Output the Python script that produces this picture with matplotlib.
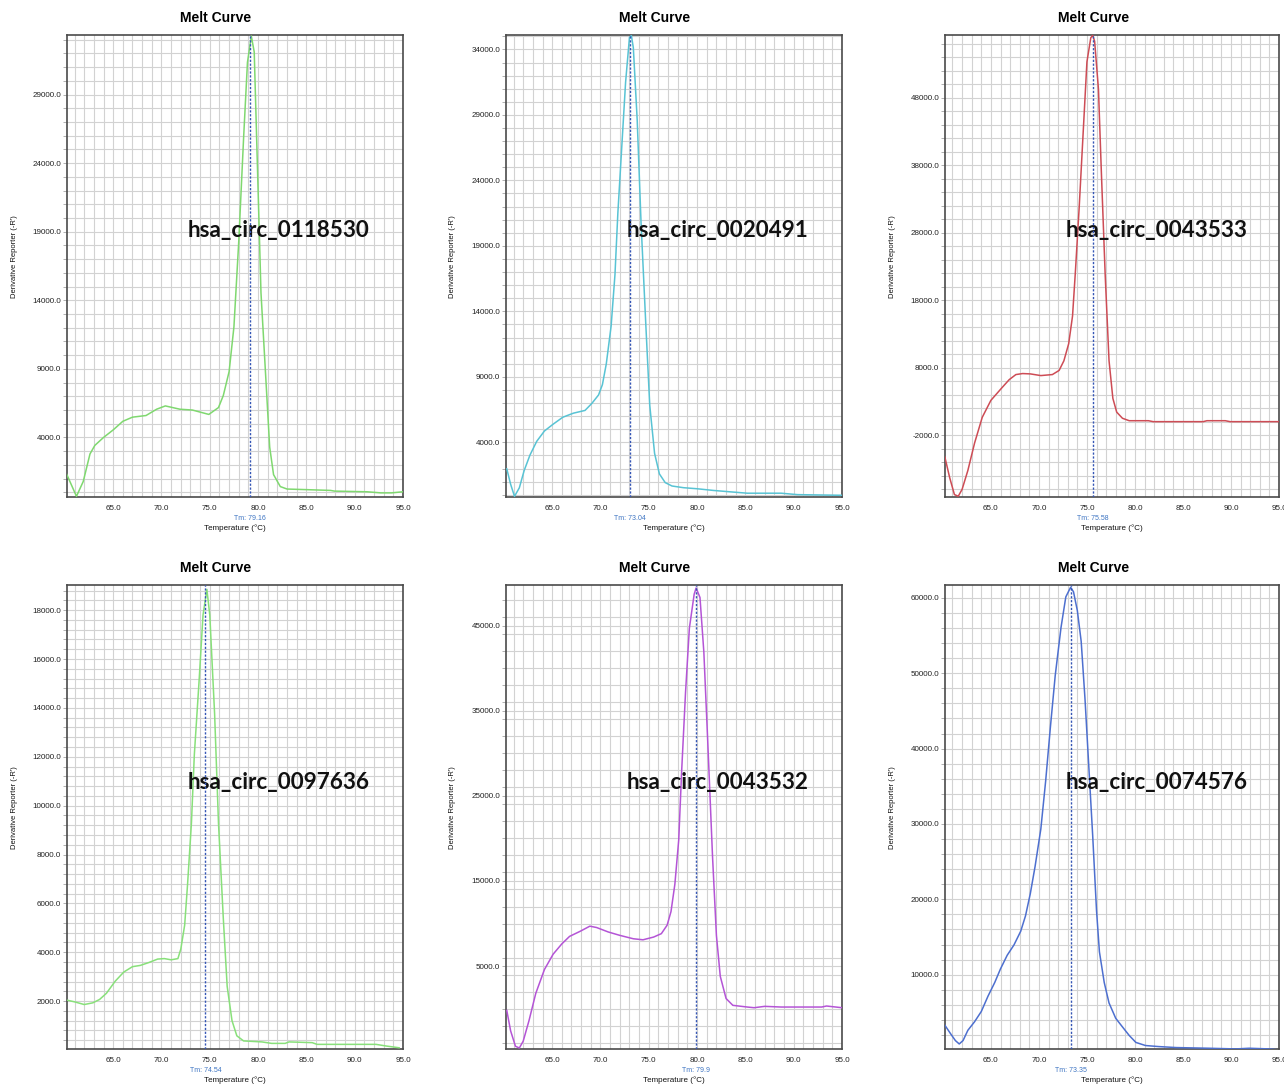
import numpy as np
import matplotlib
matplotlib.use('Agg')
import matplotlib.pyplot as plt
from matplotlib.ticker import MultipleLocator, FormatStrFormatter

plt.rcParams['font.family'] = ['Liberation Sans', 'DejaVu Sans']

# ---- data (temperature in degC, derivative reporter -R') ----
temp_0118530 = [60.2, 61.2, 61.9, 62.6, 63.1, 64.0, 65.0, 66.0, 67.0, 68.4, 69.5, 70.4, 71.9,
                73.2, 74.9, 75.9, 76.4, 77.0, 77.5, 78.0, 78.5, 78.9, 79.3, 79.6, 79.9, 80.3,
                80.8, 81.2, 81.6, 82.3, 83.0, 84.4, 87.5, 87.9, 91.3, 92.7, 93.8, 95.0]
deriv_0118530 = [1300, -290, 790, 2800, 3420, 4000, 4550, 5180, 5480, 5600, 6060, 6300, 6060,
                 6000, 5680, 6180, 7060, 8800, 12070, 18300, 25830, 31350, 33260, 32100, 24570, 14540,
                 8310, 3300, 1290, 420, 240, 210, 140, 90, 40, -40, -40, 40]

temp_0020491 = [60.3, 60.7, 61.1, 61.6, 62.1, 62.7, 63.4, 64.2, 65.1, 66.1, 67.2, 68.4, 69.1,
                69.8, 70.2, 70.6, 71.1, 71.5, 71.8, 72.2, 72.6, 73.0, 73.2, 73.4, 73.8, 74.2,
                74.7, 75.1, 75.6, 76.1, 76.7, 77.4, 78.6, 80.0, 81.7, 83.5, 85.2, 88.7, 90.4, 95.0]
deriv_0020491 = [1980, 800, -120, 530, 1850, 3030, 4080, 4870, 5390, 5920, 6230, 6440, 6970,
                 7620, 8410, 9990, 12870, 16810, 21530, 26520, 31500, 34920, 35050, 34130, 28620, 20750,
                 12870, 6830, 3160, 1590, 930, 670, 540, 460, 330, 220, 120, 120, 10, -40]

temp_0043533 = [60.2, 60.7, 61.2, 61.6, 62.0, 62.6, 63.3, 64.1, 65.0, 66.1, 66.9, 67.6, 68.3,
                69.1, 70.2, 71.4, 72.1, 72.6, 73.1, 73.5, 73.8, 74.2, 74.6, 75.0, 75.4, 75.6,
                75.8, 76.2, 76.5, 76.9, 77.3, 77.7, 78.1, 78.7, 79.4, 81.4, 81.9, 87.1, 87.5,
                89.4, 89.9, 95.0]
deriv_0043533 = [-5210, -8260, -10810, -11060, -10040, -7240, -3170, 650, 3160, 4950, 6220, 6980, 7130,
                 7080, 6830, 6980, 7590, 9020, 11560, 15660, 22270, 31950, 42650, 53340, 56900, 57270,
                 56400, 49280, 37060, 21780, 9050, 3450, 1410, 500, 140, 140, 0, 0, 140,
                 140, 0, 0]

temp_0097636 = [60.2, 61.0, 62.0, 62.9, 63.6, 64.3, 65.2, 66.1, 67.0, 67.8, 68.7, 69.6, 70.3,
                71.0, 71.7, 72.0, 72.4, 72.7, 73.1, 73.4, 73.9, 74.3, 74.7, 75.0, 75.5, 75.9,
                76.4, 76.8, 77.3, 77.8, 78.5, 80.4, 81.4, 82.8, 83.2, 85.6, 86.1, 92.2, 93.3, 94.6]
deriv_0097636 = [2040, 1970, 1860, 1930, 2070, 2320, 2810, 3190, 3410, 3460, 3580, 3720, 3740,
                 3690, 3740, 4130, 5110, 6780, 9290, 12080, 15150, 17800, 18850, 17800, 13750, 9290,
                 5380, 2600, 1200, 580, 370, 330, 270, 270, 330, 300, 230, 230, 160, 90]

temp_0043532 = [60.3, 60.7, 61.2, 61.6, 62.0, 62.6, 63.3, 64.2, 65.1, 66.0, 66.8, 67.9, 68.9,
                69.6, 70.8, 72.0, 73.4, 74.4, 75.5, 76.3, 76.9, 77.3, 77.7, 78.1, 78.4, 78.8,
                79.2, 79.7, 79.9, 80.3, 80.7, 81.1, 81.6, 82.0, 82.4, 83.0, 83.7, 85.2, 85.9,
                87.0, 88.7, 92.9, 93.4, 95.0]
deriv_0043532 = [-210, -2615, -4420, -4620, -3820, -1410, 1790, 4600, 6400, 7610, 8490, 9090, 9690,
                 9530, 9010, 8610, 8210, 8090, 8410, 8810, 9810, 11410, 14620, 19830, 27850, 37070,
                 44690, 48700, 49420, 48300, 41880, 31460, 17830, 8610, 3800, 1190, 390, 190, 110,
                 270, 190, 190, 310, 110]

temp_0074576 = [60.2, 60.8, 61.3, 61.7, 62.1, 62.6, 63.3, 64.0, 64.7, 65.4, 66.0, 66.7, 67.4,
                68.1, 68.6, 69.1, 69.6, 70.2, 70.7, 71.2, 71.7, 72.3, 72.8, 73.3, 73.6, 74.0,
                74.4, 74.8, 75.2, 75.6, 76.0, 76.3, 76.8, 77.3, 78.0, 78.7, 79.4, 80.1, 81.1,
                82.5, 84.3, 87.7, 90.5, 91.9, 94.0, 95.0]
deriv_0074576 = [3300, 2160, 1250, 800, 1250, 2610, 3750, 5110, 7150, 8960, 10770, 12580, 13940,
                 15750, 17790, 20730, 24360, 29340, 35680, 42930, 49730, 56070, 60140, 61410, 60820, 58330,
                 54250, 46560, 37500, 28440, 18470, 13030, 8960, 6240, 4200, 3060, 1930, 1000, 590,
                 450, 320, 230, 140, 230, 140, 0]

names = ['hsa_circ_0118530', 'hsa_circ_0020491', 'hsa_circ_0043533',
         'hsa_circ_0097636', 'hsa_circ_0043532', 'hsa_circ_0074576']
temps = [temp_0118530, temp_0020491, temp_0043533, temp_0097636, temp_0043532, temp_0074576]
derivs = [deriv_0118530, deriv_0020491, deriv_0043533, deriv_0097636, deriv_0043532, deriv_0074576]
tm_values = [79.16, 73.04, 75.58, 74.54, 79.9, 73.35]
tm_labels = ['Tm: 79.16', 'Tm: 73.04', 'Tm: 75.58', 'Tm: 74.54', 'Tm: 79.9', 'Tm: 73.35']
y_ranges = [(-340, 33340), (-170, 35100), (-11170, 57320),
            (40, 19030), (-4740, 49770), (130, 61720)]
y_major_ticks = [[4000, 9000, 14000, 19000, 24000, 29000],
                 [4000, 9000, 14000, 19000, 24000, 29000, 34000],
                 [-2000, 8000, 18000, 28000, 38000, 48000],
                 [2000, 4000, 6000, 8000, 10000, 12000, 14000, 16000, 18000],
                 [5000, 15000, 25000, 35000, 45000],
                 [10000, 20000, 30000, 40000, 50000, 60000]]
x_ticks = [65, 70, 75, 80, 85, 90, 95]

line_colors = ['#7fd86f', '#58c3d4', '#cd4c55', '#88e07a', '#b454d6', '#4d6fcf']

# ---- layout (pixels of a 1284x1084 canvas) ----
W, H = 1284, 1084
col_left = [67, 506, 945]
col_right = [403, 842, 1279]
row_top = [35, 585]
row_bottom = [497, 1049]
title_x = [216, 655, 1094]

fig = plt.figure(figsize=(W / 100, H / 100), dpi=100)

for i in range(6):
    r, c = divmod(i, 3)
    l, rt = col_left[c], col_right[c]
    t, b = row_top[r], row_bottom[r]
    w_px, h_px = rt - l, b - t
    ax = fig.add_axes([l / W, 1 - b / H, w_px / W, h_px / H])

    ax.plot(temps[i], derivs[i], color=line_colors[i], lw=1.1, zorder=3)
    ax.axvline(tm_values[i], color='#3556b5', lw=1.0, ls=(0, (1.6, 1.2)), zorder=4)

    ax.set_xlim(60.22, 95.0)
    ax.set_ylim(*y_ranges[i])

    step = y_major_ticks[i][1] - y_major_ticks[i][0]
    ax.set_xticks(x_ticks)
    ax.xaxis.set_minor_locator(MultipleLocator(1))
    ax.set_yticks(y_major_ticks[i])
    ax.yaxis.set_minor_locator(MultipleLocator(step / 5))
    ax.xaxis.set_major_formatter(FormatStrFormatter('%.1f'))
    ax.yaxis.set_major_formatter(FormatStrFormatter('%.1f'))

    ax.grid(True, which='both', color='#d2d2d2', lw=0.8, zorder=0)
    ax.set_axisbelow(True)

    ax.tick_params(axis='x', which='both', length=0, pad=6, labelsize=5.8, labelcolor='#222222')
    ax.tick_params(axis='y', which='both', direction='out', length=2.6, width=0.7,
                   color='#b0b0b0', pad=1.5, labelsize=5.8, labelcolor='#222222')

    for sp in ax.spines.values():
        sp.set_color('#4a4a4a')
        sp.set_linewidth(1.2)

    ax.set_title('Melt Curve', fontsize=10, fontweight='bold', pad=0,
                 x=(title_x[c] - l) / w_px, y=1 + (t - (18 + 550 * r)) / h_px, va='center')

    ax.set_xlabel('Temperature (°C)', fontsize=5.8, color='#111111')
    ax.xaxis.set_label_coords(0.5, -31 / h_px)
    ax.xaxis.label.set_va('center')

    ax.set_ylabel("Derivative Reporter (-R')", fontsize=5.5, color='#111111')
    ax.yaxis.set_label_coords(-53 / w_px, 0.52)
    ax.yaxis.label.set_va('center')

    ax.text(tm_values[i], -22 / h_px, tm_labels[i], transform=ax.get_xaxis_transform(),
            ha='center', va='center', fontsize=5, color='#3d74c2')

    ax.text(121 / w_px, (b - (231 + 551 * r)) / h_px, names[i], transform=ax.transAxes,
            ha='left', va='center', fontsize=16.2, fontweight='bold', family='Lato', color='#111111')

fig.savefig('out.png', dpi=100, facecolor='white')
